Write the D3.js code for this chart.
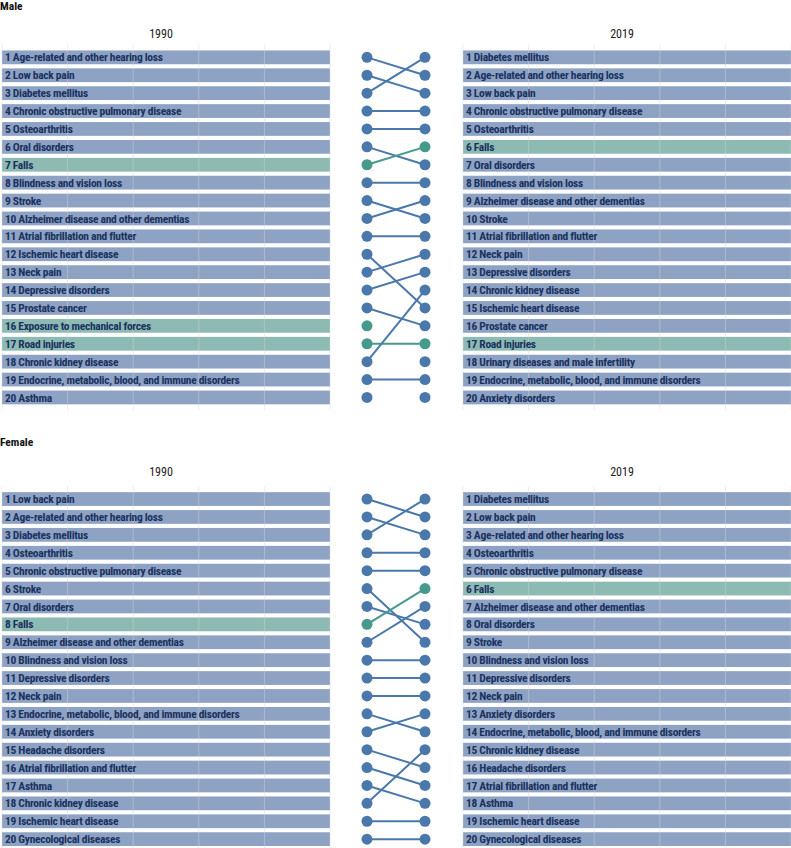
<!DOCTYPE html>
<html>
<head>
<meta charset="utf-8">
<script src="https://cdn.jsdelivr.net/npm/d3@7"></script>
<style>
  html, body { margin: 0; padding: 0; background: #fff; }
  svg { display: block; }
</style>
</head>
<body>
<svg id="chart" width="791" height="848"></svg>
<script>
const years = ["1990", "2019"];
const male1990 = [
  "Age-related and other hearing loss", "Low back pain", "Diabetes mellitus",
  "Chronic obstructive pulmonary disease", "Osteoarthritis", "Oral disorders", "Falls",
  "Blindness and vision loss", "Stroke", "Alzheimer disease and other dementias",
  "Atrial fibrillation and flutter", "Ischemic heart disease", "Neck pain",
  "Depressive disorders", "Prostate cancer", "Exposure to mechanical forces",
  "Road injuries", "Chronic kidney disease",
  "Endocrine, metabolic, blood, and immune disorders", "Asthma"
];
const male2019 = [
  "Diabetes mellitus", "Age-related and other hearing loss", "Low back pain",
  "Chronic obstructive pulmonary disease", "Osteoarthritis", "Falls", "Oral disorders",
  "Blindness and vision loss", "Alzheimer disease and other dementias", "Stroke",
  "Atrial fibrillation and flutter", "Neck pain", "Depressive disorders",
  "Chronic kidney disease", "Ischemic heart disease", "Prostate cancer", "Road injuries",
  "Urinary diseases and male infertility",
  "Endocrine, metabolic, blood, and immune disorders", "Anxiety disorders"
];
const female1990 = [
  "Low back pain", "Age-related and other hearing loss", "Diabetes mellitus",
  "Osteoarthritis", "Chronic obstructive pulmonary disease", "Stroke", "Oral disorders",
  "Falls", "Alzheimer disease and other dementias", "Blindness and vision loss",
  "Depressive disorders", "Neck pain", "Endocrine, metabolic, blood, and immune disorders",
  "Anxiety disorders", "Headache disorders", "Atrial fibrillation and flutter", "Asthma",
  "Chronic kidney disease", "Ischemic heart disease", "Gynecological diseases"
];
const female2019 = [
  "Diabetes mellitus", "Low back pain", "Age-related and other hearing loss",
  "Osteoarthritis", "Chronic obstructive pulmonary disease", "Falls",
  "Alzheimer disease and other dementias", "Oral disorders", "Stroke",
  "Blindness and vision loss", "Depressive disorders", "Neck pain", "Anxiety disorders",
  "Endocrine, metabolic, blood, and immune disorders", "Chronic kidney disease",
  "Headache disorders", "Atrial fibrillation and flutter", "Asthma",
  "Ischemic heart disease", "Gynecological diseases"
];
const injuryCauses = ["Falls", "Exposure to mechanical forces", "Road injuries"];

const BAR_BLUE = "#8ea2c4", BAR_GREEN = "#8dbab2";
const DOT_BLUE = "#4a78ab", DOT_GREEN = "#459a8b";
const TEXT = "#1b3360";
const FONT = "'Liberation Sans Narrow', 'Roboto Condensed', 'Arial Narrow', Roboto, sans-serif";

const svg = d3.select("#chart");
const isInjury = d => injuryCauses.includes(d);

function drawBlock(title, titleY, yearY, rowTop, left, right) {
  const g = svg.append("g");
  g.append("text").attr("x", 0).attr("y", titleY)
    .attr("font-family", FONT).attr("font-weight", "bold").attr("font-size", 11.5)
    .attr("fill", "#111").text(title);

  const ranks = d3.range(1, 21);
  const y = d3.scaleBand().domain(ranks).range([rowTop, rowTop + 20 * 17.9]).paddingInner(0.23).paddingOuter(0.115);
  const xL = d3.scaleLinear().domain([0, 5]).range([2, 330]);
  const xR = d3.scaleLinear().domain([0, 5]).range([463, 791]);

  [[left, xL, years[0]], [right, xR, years[1]]].forEach(([list, x, yr]) => {
    const p = g.append("g");
    p.append("text").attr("x", (x.range()[0] + x.range()[1]) / 2 - 5).attr("y", yearY)
      .attr("text-anchor", "middle").attr("font-family", FONT).attr("font-size", 12)
      .attr("fill", "#222").text(yr);
    p.selectAll("rect").data(list).join("rect")
      .attr("x", x(0)).attr("width", x(5) - x(0))
      .attr("y", (d, i) => y(i + 1)).attr("height", y.bandwidth())
      .attr("fill", d => isInjury(d) ? BAR_GREEN : BAR_BLUE);
    p.selectAll("line.grid").data(x.ticks(5)).join("line").attr("class", "grid")
      .attr("x1", d => x(d)).attr("x2", d => x(d))
      .attr("y1", y(1) - 6).attr("y2", y(20) + y.bandwidth() + 6)
      .attr("stroke", "#d8d8d8").attr("stroke-opacity", 0.45).attr("stroke-width", 1);
    p.selectAll("text.lab").data(list).join("text").attr("class", "lab")
      .attr("x", x(0) + 3).attr("y", (d, i) => y(i + 1) + y.bandwidth() / 2)
      .attr("dy", "0.36em").attr("font-family", FONT).attr("font-weight", "bold")
      .attr("font-size", 11.5).attr("letter-spacing", -0.3).attr("fill", TEXT)
      .text((d, i) => (i + 1) + " " + d);
  });

  const cx = d3.scaleOrdinal().domain(years).range([367, 425]);
  const cy = r => y(r) + y.bandwidth() / 2;
  const links = left.map((d, i) => ({ name: d, a: i + 1, b: right.indexOf(d) + 1 })).filter(l => l.b > 0);
  g.selectAll("line.link").data(links).join("line").attr("class", "link")
    .attr("x1", cx(years[0])).attr("x2", cx(years[1]))
    .attr("y1", d => cy(d.a)).attr("y2", d => cy(d.b))
    .attr("stroke", d => isInjury(d.name) ? DOT_GREEN : DOT_BLUE).attr("stroke-width", 2);
  g.selectAll("circle.l").data(left).join("circle").attr("class", "l")
    .attr("cx", cx(years[0])).attr("cy", (d, i) => cy(i + 1)).attr("r", 5.5)
    .attr("fill", d => isInjury(d) ? DOT_GREEN : DOT_BLUE);
  g.selectAll("circle.r").data(right).join("circle").attr("class", "r")
    .attr("cx", cx(years[1])).attr("cy", (d, i) => cy(i + 1)).attr("r", 5.5)
    .attr("fill", d => isInjury(d) ? DOT_GREEN : DOT_BLUE);
}

drawBlock("Male", 10, 37.5, 48.4, male1990, male2019);
drawBlock("Female", 446, 476, 490.1, female1990, female2019);
</script>
</body>
</html>
